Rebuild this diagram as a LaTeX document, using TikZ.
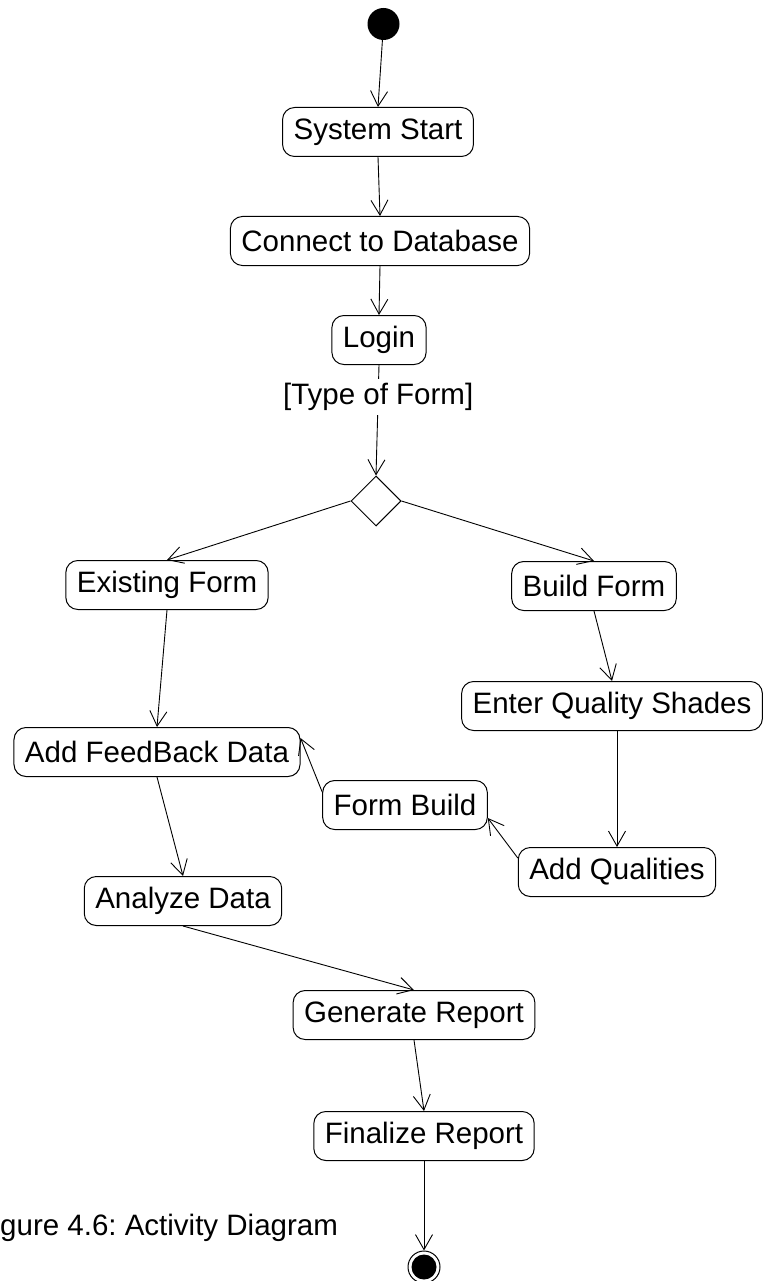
\documentclass[tikz,border=0pt]{standalone}
\usepackage{fontspec}
\setmainfont{Liberation Sans}
\usetikzlibrary{arrows.meta,shapes.geometric,calc}
\frenchspacing
\begin{document}
\begin{tikzpicture}[x=1pt,y=-1pt,
  txt/.style={font=\fontsize{29.5}{35}\selectfont},
  act/.style={txt, draw, rounded corners=12pt, line width=1pt,
    minimum height=49pt, inner xsep=11pt, inner ysep=0pt},
  flow/.style={draw, line width=0.9pt,
    -{Straight Barb[length=15pt,width=17pt,line width=0.9pt]}},
  initial/.style={circle, fill=black, minimum size=32pt, inner sep=0pt},
  finalring/.style={circle, draw, line width=1pt, minimum size=32pt, inner sep=0pt},
  finaldot/.style={circle, fill=black, minimum size=25pt, inner sep=0pt},
  decision/.style={diamond, draw, line width=1pt, minimum width=50pt,
    minimum height=50pt, inner sep=0pt}]
\useasboundingbox (0,0) rectangle (763,1281);

% activity nodes
\node[initial] (start) at (383.5,24) {};
\node[act] (sys) at (378,132) {System Start};
\node[act] (db) at (380,241) {Connect to Database};
\node[act] (login) at (379,340) {Login};
\node[decision] (dec) at (376,501) {};
\node[act] (ef) at (167,585) {Existing Form};
\node[act] (bf) at (594,586) {Build Form};
\node[act] (eqs) at (612,706) {Enter Quality Shades};
\node[act] (afb) at (157,752) {Add FeedBack Data};
\node[act] (fb) at (405,805) {Form Build};
\node[act] (aq) at (617,872) {Add Qualities};
\node[act] (ad) at (183,901) {Analyze Data};
\node[act] (gr) at (414,1015) {Generate Report};
\node[act] (fr) at (424,1136) {Finalize Report};
\node[finalring] (end) at (424,1267) {};
\node[finaldot] (enddot) at (end) {};

% transitions
\draw[flow] (start) -- (sys.north);
\draw[flow] (sys.south) -- (db.north);
\draw[flow] (db.south) -- (login.north);
\draw[flow] (login.south) -- node[pos=0.29, txt, fill=white, inner xsep=2pt, inner ysep=4pt] (guard) {[Type of Form]} (dec.north);
\draw[flow] (dec.west) -- (ef.north);
\draw[flow] (dec.east) -- (bf.north);
\draw[flow] (ef.south) -- (afb.north);
\draw[flow] (bf.south) -- (eqs.north);
\draw[flow] (eqs.south -| aq.north) -- (aq.north);
\draw[flow] ($(aq.west)+(0,-14)$) -- ($(fb.east)+(0,13)$);
\draw[flow] ($(fb.west)+(0,-13)$) -- ($(afb.east)+(0,-14)$);
\draw[flow] (afb.south) -- (ad.north);
\draw[flow] (ad.south) -- (gr.north);
\draw[flow] (gr.south) -- (fr.north);
\draw[flow] (fr.south) -- (end.north);

% caption
\node[txt, anchor=base west, inner sep=0pt] (caption) at (0,1235) {gure 4.6: Activity Diagram};
\end{tikzpicture}
\end{document}
